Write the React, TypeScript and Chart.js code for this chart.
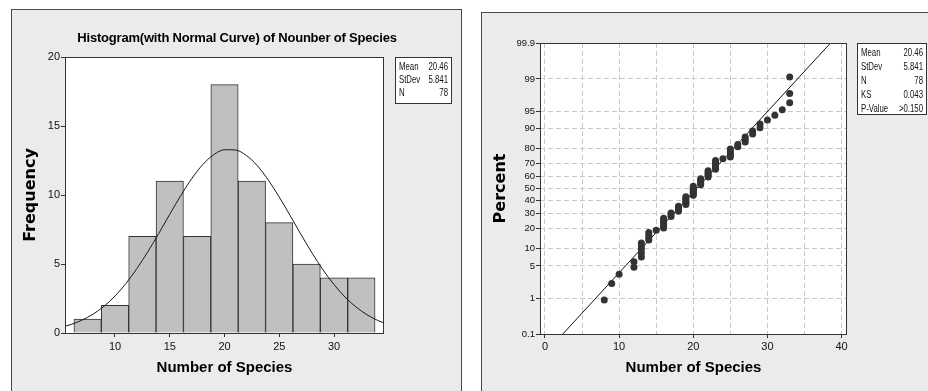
import React, { useEffect, useRef } from 'react';
import { Chart, registerables, LinearScale } from 'chart.js';

// ---------- Histogram (left panel) ----------
const BIN_CENTERS = [7.5, 10, 12.5, 15, 17.5, 20, 22.5, 25, 27.5, 30, 32.5];
const BIN_COUNTS = [1, 2, 7, 11, 7, 18, 11, 8, 5, 4, 4];
const CURVE_X = [5.4, 6, 7, 8, 9, 10, 11, 12, 13, 14, 15, 16, 17, 18, 19, 20, 21, 22, 23, 24, 25, 26, 27, 28, 29, 30, 31, 32, 33, 34, 34.6];
const CURVE_Y = [0.48, 0.62, 0.94, 1.37, 1.94, 2.68, 3.59, 4.67, 5.89, 7.22, 8.6, 9.95, 11.18, 12.19, 12.91, 13.28, 13.26, 12.86, 12.12, 11.08, 9.85, 8.5, 7.12, 5.79, 4.57, 3.51, 2.61, 1.89, 1.33, 0.91, 0.71];
const HIST_X_TICKS = [10, 15, 20, 25, 30];
const HIST_Y_TICKS = [0, 5, 10, 15, 20];
const HIST_TITLE = 'Histogram(with Normal Curve) of Nounber of Species';
const HIST_STAT_LABELS = ['Mean', 'StDev', 'N'];
const HIST_STAT_VALUES = ['20.46', '5.841', '78'];

// ---------- Probability plot (right panel) ----------
const SPECIES = [
  8, 9, 10, 12, 12, 13, 13, 13, 13, 13,
  14, 14, 14, 14, 15, 16, 16, 16, 16, 16,
  16, 17, 17, 17, 18, 18, 18, 18, 19, 19,
  19, 19, 19, 19, 20, 20, 20, 20, 20, 20,
  20, 21, 21, 21, 21, 21, 22, 22, 22, 22,
  22, 23, 23, 23, 23, 23, 23, 24, 25, 25,
  25, 25, 25, 26, 26, 27, 27, 27, 28, 28,
  29, 29, 30, 31, 32, 33, 33, 33,
];
const PERCENTS = [
  0.89, 2.17, 3.44, 4.72, 5.99, 7.27, 8.55, 9.82, 11.10, 12.37,
  13.65, 14.92, 16.20, 17.47, 18.75, 20.03, 21.30, 22.58, 23.85, 25.13,
  26.40, 27.68, 28.95, 30.23, 31.51, 32.78, 34.06, 35.33, 36.61, 37.88,
  39.16, 40.43, 41.71, 42.98, 44.26, 45.54, 46.81, 48.09, 49.36, 50.64,
  51.91, 53.19, 54.46, 55.74, 57.02, 58.29, 59.57, 60.84, 62.12, 63.39,
  64.67, 65.94, 67.22, 68.49, 69.77, 71.05, 72.32, 73.60, 74.87, 76.15,
  77.42, 78.70, 79.97, 81.25, 82.53, 83.80, 85.08, 86.35, 87.63, 88.90,
  90.18, 91.45, 92.73, 94.01, 95.28, 96.56, 97.83, 99.11,
];
const FIT_X = [2.41, 38.51];
const FIT_P = [0.1, 99.9];
const PCT_TICKS = [0.1, 1, 5, 10, 20, 30, 40, 50, 60, 70, 80, 90, 95, 99, 99.9];
const PROB_X_GRID = [0, 5, 10, 15, 20, 25, 30, 35, 40];
const PROB_STAT_LABELS = ['Mean', 'StDev', 'N', 'KS', 'P-Value'];
const PROB_STAT_VALUES = ['20.46', '5.841', '78', '0.043', '>0.150'];

const SANS = '"Liberation Sans", Arial, sans-serif';
const WIDE_BOLD = '"DejaVu Sans", Verdana, sans-serif';

// inverse standard normal CDF (Acklam) used by the probability scale
function probit(p: number): number {
  const a = [-3.969683028665376e1, 2.209460984245205e2, -2.759285104469687e2, 1.38357751867269e2, -3.066479806614716e1, 2.506628277459239];
  const b = [-5.447609879822406e1, 1.615858368580409e2, -1.556989798598866e2, 6.680131188771972e1, -1.328068155288572e1];
  const c = [-7.784894002430293e-3, -3.223964580411365e-1, -2.400758277161838, -2.549732539343734, 4.374664141464968, 2.938163982698783];
  const d = [7.784695709041462e-3, 3.224671290700398e-1, 2.445134137142996, 3.754408661907416];
  const pl = 0.02425;
  if (p < pl) {
    const q = Math.sqrt(-2 * Math.log(p));
    return (((((c[0] * q + c[1]) * q + c[2]) * q + c[3]) * q + c[4]) * q + c[5]) / ((((d[0] * q + d[1]) * q + d[2]) * q + d[3]) * q + 1);
  }
  if (p <= 1 - pl) {
    const q = p - 0.5, r = q * q;
    return ((((((a[0] * r + a[1]) * r + a[2]) * r + a[3]) * r + a[4]) * r + a[5]) * q) / (((((b[0] * r + b[1]) * r + b[2]) * r + b[3]) * r + b[4]) * r + 1);
  }
  const q = Math.sqrt(-2 * Math.log(1 - p));
  return -(((((c[0] * q + c[1]) * q + c[2]) * q + c[3]) * q + c[4]) * q + c[5]) / ((((d[0] * q + d[1]) * q + d[2]) * q + d[3]) * q + 1);
}

class ProbitScale extends LinearScale {
  static id = 'probit';
  static defaults = {};
  _zlo = 0;
  _zhi = 1;
  determineDataLimits() {
    const o: any = this.options;
    this.min = o.min;
    this.max = o.max;
  }
  buildTicks() {
    (this as any).start = this.min;
    (this as any).end = this.max;
    return PCT_TICKS.map((v) => ({ value: v }));
  }
  configure() {
    super.configure();
    this._zlo = probit(this.min / 100);
    this._zhi = probit(this.max / 100);
  }
  getPixelForValue(v: number) {
    return this.getPixelForDecimal((probit(v / 100) - this._zlo) / (this._zhi - this._zlo));
  }
  getValueForPixel(px: number) {
    const dec = this.getDecimalForPixel(px);
    const z = this._zlo + dec * (this._zhi - this._zlo);
    const t = 1 / (1 + 0.2316419 * Math.abs(z));
    const pdf = Math.exp(-z * z / 2) / Math.sqrt(2 * Math.PI);
    const cdf = 1 - pdf * t * (0.31938153 + t * (-0.356563782 + t * (1.781477937 + t * (-1.821255978 + t * 1.330274429))));
    return 100 * (z >= 0 ? cdf : 1 - cdf);
  }
}

Chart.register(...registerables, ProbitScale);

const plotFrame = {
  id: 'plotFrame',
  beforeDraw(chart: any) {
    const { ctx, chartArea: a } = chart;
    ctx.save();
    ctx.fillStyle = '#ffffff';
    ctx.fillRect(a.left, a.top, a.right - a.left, a.bottom - a.top);
    ctx.restore();
  },
  afterDatasetsDraw(chart: any) {
    const { ctx, chartArea: a } = chart;
    ctx.save();
    ctx.strokeStyle = '#333333';
    ctx.lineWidth = 1;
    ctx.strokeRect(a.left + 0.5, a.top + 0.5, a.right - a.left - 1, a.bottom - a.top);
    ctx.restore();
  },
};

// condensed text drawn by horizontal scaling of the context
function narrowText(ctx: CanvasRenderingContext2D, text: string, x: number, y: number, align: CanvasTextAlign, sx: number) {
  ctx.save();
  ctx.translate(x, y);
  ctx.scale(sx, 1);
  ctx.textAlign = align;
  ctx.fillText(text, 0, 0);
  ctx.restore();
}

function statsBox(ctx: CanvasRenderingContext2D, x0: number, y0: number, x1: number, y1: number, labels: string[], values: string[], firstY: number, step: number) {
  ctx.save();
  ctx.fillStyle = '#ffffff';
  ctx.fillRect(x0, y0, x1 - x0, y1 - y0);
  ctx.strokeStyle = '#333333';
  ctx.lineWidth = 1;
  ctx.strokeRect(x0 + 0.5, y0 + 0.5, x1 - x0, y1 - y0);
  ctx.fillStyle = '#111111';
  ctx.font = `10px ${SANS}`;
  ctx.textBaseline = 'middle';
  labels.forEach((l, i) => {
    narrowText(ctx, l, x0 + 4, firstY + i * step, 'left', 0.78);
    narrowText(ctx, values[i], x1 - 3, firstY + i * step, 'right', 0.78);
  });
  ctx.restore();
}

const histOverlay = {
  id: 'histOverlay',
  afterDraw(chart: any) {
    const ctx = chart.ctx as CanvasRenderingContext2D;
    ctx.save();
    ctx.fillStyle = '#000000';
    ctx.font = `bold 13px ${SANS}`;
    (ctx as any).letterSpacing = '-0.2px';
    ctx.textBaseline = 'middle';
    narrowText(ctx, HIST_TITLE, 237, 38.5, 'center', 1);
    ctx.restore();
    statsBox(ctx, 395, 57, 451, 103, HIST_STAT_LABELS, HIST_STAT_VALUES, 67, 13.2);
  },
};

const probOverlay = {
  id: 'probOverlay',
  afterDraw(chart: any) {
    statsBox(chart.ctx, 857, 43, 926, 114, PROB_STAT_LABELS, PROB_STAT_VALUES, 53.5, 13.9);
  },
};

export default function App() {
  const leftRef = useRef<HTMLCanvasElement>(null);
  const rightRef = useRef<HTMLCanvasElement>(null);

  useEffect(() => {
    const tickFont = { family: SANS, size: 11 };
    const xTitleFont = { family: SANS, size: 15, weight: 'bold' as const };
    const yTitleFont = { family: WIDE_BOLD, size: 16, weight: 'bold' as const };

    const hist = new Chart(leftRef.current!, {
      type: 'bar',
      data: {
        datasets: [
          {
            type: 'line',
            data: CURVE_X.map((x, i) => ({ x, y: CURVE_Y[i] })),
            borderColor: '#1a1a1a',
            borderWidth: 1,
            pointRadius: 0,
            cubicInterpolationMode: 'monotone',
            fill: false,
            order: 0,
          } as any,
          {
            type: 'bar',
            data: BIN_CENTERS.map((x, i) => ({ x, y: BIN_COUNTS[i] })),
            backgroundColor: '#c0c0c0',
            borderColor: '#333333',
            borderWidth: 1,
            barPercentage: 1,
            categoryPercentage: 1,
            order: 1,
          } as any,
        ],
      },
      options: {
        responsive: false,
        animation: false,
        events: [],
        layout: { padding: { left: 11, right: 928 - 384, top: 57, bottom: 0 } },
        plugins: { legend: { display: false }, tooltip: { enabled: false }, title: { display: false } },
        scales: {
          x: {
            type: 'linear',
            min: 5.434,
            max: 34.566,
            offset: false,
            afterBuildTicks: (s: any) => { s.ticks = HIST_X_TICKS.map((v) => ({ value: v })); },
            afterFit: (s: any) => { s.height = 58; },
            grid: { offset: false, drawOnChartArea: false, drawTicks: true, tickLength: 4, color: '#333333' },
            border: { display: false },
            ticks: { font: tickFont, color: '#111111', padding: 3, maxRotation: 0, autoSkip: false, callback: (v: any) => String(v) },
            title: { display: true, text: 'Number of Species', font: xTitleFont, color: '#000000', padding: { top: 0, bottom: 14 } },
          },
          y: {
            type: 'linear',
            min: 0,
            max: 20,
            afterBuildTicks: (s: any) => { s.ticks = HIST_Y_TICKS.map((v) => ({ value: v })); },
            afterFit: (s: any) => { s.width = 54; },
            grid: { drawOnChartArea: false, drawTicks: true, tickLength: 4, color: '#333333' },
            border: { display: false },
            ticks: { font: tickFont, color: '#111111', padding: 1, autoSkip: false, callback: (v: any) => String(v) },
            title: { display: true, text: 'Frequency', font: yTitleFont, color: '#000000', padding: { top: 9.9, bottom: 0 } },
          },
        },
      } as any,
      plugins: [plotFrame, histOverlay],
    });

    const prob = new Chart(rightRef.current!, {
      type: 'scatter',
      data: {
        datasets: [
          {
            data: SPECIES.map((x, i) => ({ x, y: PERCENTS[i] })),
            pointRadius: 3.5,
            pointBackgroundColor: '#333333',
            pointBorderWidth: 0,
            backgroundColor: '#333333',
            borderWidth: 0,
            order: 0,
          } as any,
          {
            type: 'line',
            data: FIT_X.map((x, i) => ({ x, y: FIT_P[i] })),
            borderColor: '#111111',
            borderWidth: 1,
            pointRadius: 0,
            showLine: true,
            fill: false,
            order: 1,
          } as any,
        ],
      },
      options: {
        responsive: false,
        animation: false,
        events: [],
        layout: { padding: { left: 481, right: 928 - 847, top: 43, bottom: 0 } },
        plugins: { legend: { display: false }, tooltip: { enabled: false }, title: { display: false } },
        scales: {
          x: {
            type: 'linear',
            min: -0.67,
            max: 40.73,
            afterBuildTicks: (s: any) => { s.ticks = PROB_X_GRID.map((v) => ({ value: v })); },
            afterFit: (s: any) => { s.height = 57; },
            grid: {
              drawOnChartArea: true,
              drawTicks: true,
              tickLength: 4,
              color: '#c8c8c8',
              tickColor: (c: any) => (c.tick && c.tick.value % 10 === 0 ? '#333333' : 'rgba(0,0,0,0)'),
            },
            border: { display: false, dash: [5, 3] },
            ticks: { font: tickFont, color: '#111111', padding: 2, maxRotation: 0, autoSkip: false, callback: (v: any) => (Number(v) % 10 === 0 ? String(v) : '') },
            title: { display: true, text: 'Number of Species', font: xTitleFont, color: '#000000', padding: { top: 0, bottom: 14 } },
          },
          y: {
            type: 'probit',
            min: 0.1,
            max: 99.9,
            afterFit: (s: any) => { s.width = 59; },
            grid: { drawOnChartArea: true, drawTicks: true, tickLength: 4, color: '#c8c8c8', tickColor: '#333333' },
            border: { display: false, dash: [5, 3] },
            ticks: { font: { family: SANS, size: 9.5 }, color: '#111111', padding: 1, autoSkip: false, callback: (v: any) => String(v) },
            title: { display: true, text: 'Percent', font: yTitleFont, color: '#000000', padding: { top: 10.1, bottom: 0 } },
          },
        },
      } as any,
      plugins: [plotFrame, probOverlay],
    });

    return () => {
      hist.destroy();
      prob.destroy();
    };
  }, []);

  const panel = (left: number, top: number, width: number) => ({
    position: 'absolute' as const,
    left,
    top,
    width,
    height: 420,
    background: '#ebebeb',
    border: '1px solid #4a4a4a',
    boxSizing: 'border-box' as const,
  });

  return (
    <div style={{ position: 'fixed', left: 0, top: 0, width: 928, height: 391, background: '#ffffff', overflow: 'hidden' }}>
      <div style={panel(11, 9, 451)} />
      <div style={panel(481, 12, 470)} />
      <canvas ref={leftRef} width={928} height={391} style={{ position: 'absolute', left: 0, top: 0 }} />
      <canvas ref={rightRef} width={928} height={391} style={{ position: 'absolute', left: 0, top: 0 }} />
    </div>
  );
}
